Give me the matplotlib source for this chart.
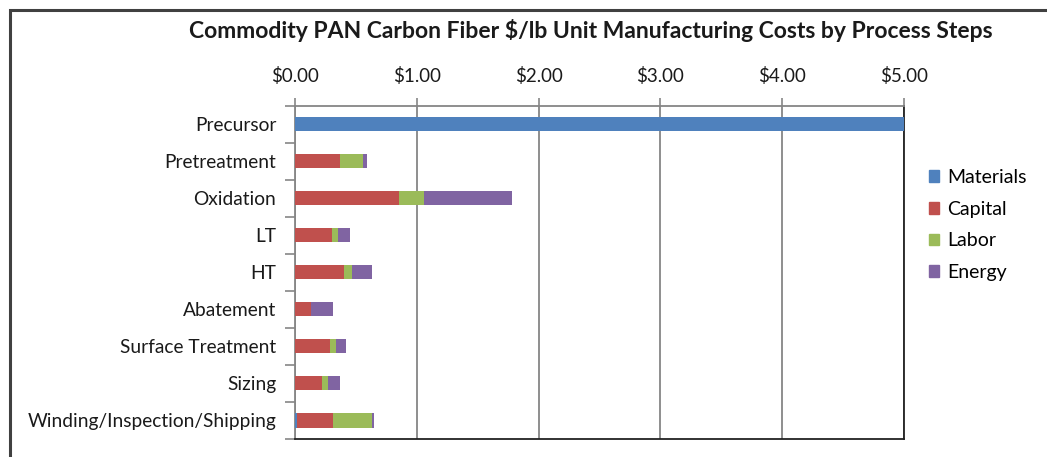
import matplotlib
matplotlib.use("Agg")
import matplotlib.pyplot as plt
import numpy as np
from matplotlib.ticker import FixedLocator, FuncFormatter
from matplotlib.patches import Rectangle

categories = ["Precursor", "Pretreatment", "Oxidation", "LT", "HT", "Abatement",
              "Surface Treatment", "Sizing", "Winding/Inspection/Shipping"]
materials = [5.00, 0.00, 0.00, 0.00, 0.00, 0.00, 0.00, 0.00, 0.02]
capital = [0.00, 0.37, 0.85, 0.30, 0.40, 0.135, 0.285, 0.22, 0.295]
labor = [0.00, 0.19, 0.21, 0.05, 0.065, 0.00, 0.05, 0.05, 0.315]
energy = [0.00, 0.03, 0.72, 0.10, 0.165, 0.18, 0.085, 0.10, 0.017]
series_names = ["Materials", "Capital", "Labor", "Energy"]
x_ticks = [0, 1, 2, 3, 4, 5]

colors = ["#4F81BD", "#C0504D", "#9BBB59", "#8064A2"]
FONT = "Lato"
plt.rcParams["font.family"] = [FONT, "DejaVu Sans"]

fig = plt.figure(figsize=(10.47, 4.57), dpi=100)
ax = fig.add_axes([295/1047, 1-439/457, (904-295)/1047, (439-105.5)/457])

y = np.arange(len(categories))
left = np.zeros(len(categories))
for vals, c, name in zip([materials, capital, labor, energy], colors, series_names):
    ax.barh(y, vals, left=left, height=0.38, color=c, label=name, zorder=3)
    left = left + np.array(vals)

ax.set_xlim(0, 5)
ax.set_ylim(len(categories) - 0.5, -0.5)
ax.xaxis.tick_top()
ax.xaxis.set_major_locator(FixedLocator(x_ticks))
ax.xaxis.set_major_formatter(FuncFormatter(lambda v, p: f"${v:.2f}"))
ax.tick_params(axis="x", which="major", length=6, width=1.2, color="#868686",
               labelsize=13.5, pad=9, labelcolor="#1a1a1a")
ax.grid(axis="x", color="#868686", lw=1.3, zorder=1)

ax.set_yticks(y)
ax.set_yticklabels(categories)
ax.set_yticks(np.arange(len(categories) + 1) - 0.5, minor=True)
ax.tick_params(axis="y", which="major", length=0, pad=13.5, labelsize=13.8, labelcolor="#1a1a1a")
ax.tick_params(axis="y", which="minor", length=7, width=1.2, color="#868686")

for s in ["top", "left"]:
    ax.spines[s].set_color("#868686")
    ax.spines[s].set_linewidth(1.3)
for s in ["bottom", "right"]:
    ax.spines[s].set_color("#222222")
    ax.spines[s].set_linewidth(1.3)

fig.text(591/1047, 1-31/457, "Commodity PAN Carbon Fiber $/lb Unit Manufacturing Costs by Process Steps",
         ha="center", va="center", fontsize=16.5, fontweight="bold", color="#1a1a1a")

handles = [Rectangle((0, 0), 1, 1, color=c) for c in colors]
fig.legend(handles, series_names, loc="center left", bbox_to_anchor=(915/1047, 1-225/457),
           frameon=False, fontsize=14, handlelength=0.55, handleheight=0.55,
           handletextpad=0.4, labelspacing=0.75, borderpad=0.2)

# chart frame
fig.add_artist(Rectangle((9.5/1047, -0.1), 1.2, 1 - 9.5/457 + 0.1, transform=fig.transFigure,
                         fill=False, edgecolor="#404040", lw=2.2))

fig.savefig("out.png", dpi=100, facecolor="white")
